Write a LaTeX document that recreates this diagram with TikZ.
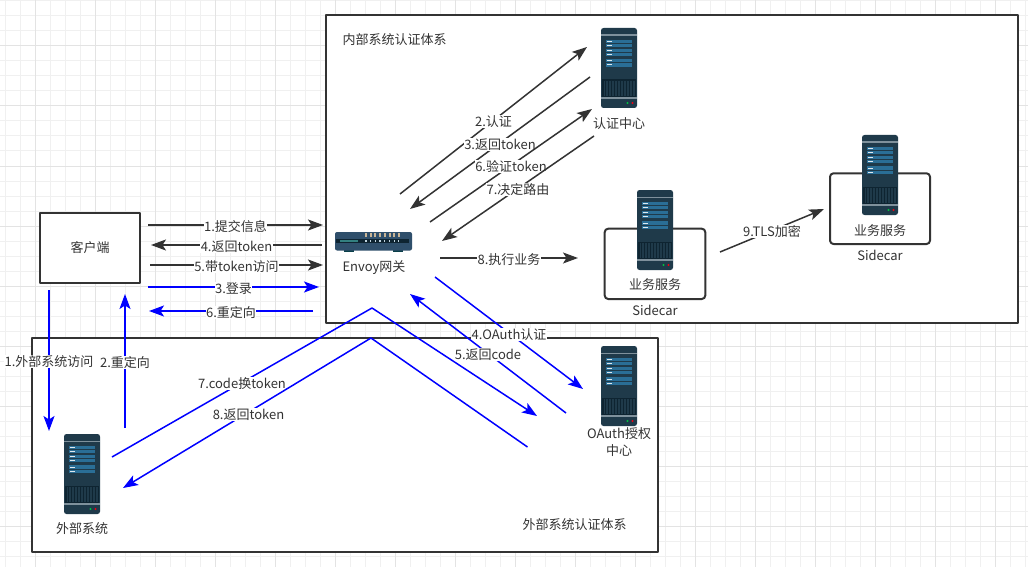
\documentclass[tikz,border=0pt]{standalone}
\usepackage{fontspec}
\setmainfont{Noto Sans CJK SC}
\usetikzlibrary{arrows.meta}
\definecolor{inkc}{HTML}{333333}
\definecolor{flowblue}{HTML}{0000FF}
\definecolor{rackc}{HTML}{1F3A4A}
\definecolor{slotc}{HTML}{2A6E96}
\definecolor{ventc}{HTML}{0E2431}
\definecolor{bandc}{HTML}{7F919C}
\definecolor{hubc}{HTML}{2F4F6B}
\definecolor{ledc}{HTML}{C9B596}
\tikzset{
	flow/.style={line width=1.5pt,-{Stealth[length=15pt,width=11pt,inset=3.5pt]}},
	darkflow/.style={flow,draw=inkc,color=inkc},
	blueflow/.style={flow,draw=flowblue,color=flowblue},
	flowlab/.style={fill=white,text=inkc,inner sep=.5pt,yshift=-1.2pt,font=\fontsize{13}{15}\selectfont},
	txt/.style={text=inkc,inner sep=0pt,align=center,font=\fontsize{13}{17}\selectfont},
	sysbox/.style={draw=inkc,fill=white,line width=2pt},
	serverpic/.pic={
		\fill[rackc,rounded corners=2.5pt](0,0)rectangle(36,80);
		\fill[bandc](0,6.5)rectangle(36,8);
		\foreach \y in {11.7,20.7,31.3}{
			\fill[slotc](5,\y)rectangle(31,\y+3.2);
			\fill[slotc](5,\y+4.2)rectangle(31,\y+7.4);
			\fill[white!85!slotc](6,\y+1.2)rectangle(10.5,\y+2.2);
			\fill[white!85!slotc](6,\y+5.2)rectangle(10.5,\y+6.2);
		}
		\fill[ventc](1,51.5)rectangle(35,69);
		\foreach \x in {3,4.5,...,33}\fill[rackc](\x,53)rectangle(\x+.5,68);
		\fill[bandc](0,69)rectangle(36,71);
		\fill[green!50!teal](26.5,75)circle(1.2pt);
		\fill[red!70!purple](31.5,75)circle(1.2pt);
	},
	hubpic/.pic={
		\fill[ventc!70!teal](9,17)rectangle(19,20);
		\fill[ventc!70!teal](58,17)rectangle(68,20);
		\fill[hubc,rounded corners=2pt](0,0)rectangle(77,18.5);
		\fill[ventc](1,7)rectangle(74,11);
		\fill[teal!60!gray](5,8)rectangle(23,10);
		\foreach \x in {30,34.7,...,63.5}{
			\fill[ledc](\x,.8)rectangle(\x+2,4.5);
			\fill[white!70!slotc](\x+.3,8.4)rectangle(\x+1.5,9.6);
		}
	}
}
\begin{document}
\begin{tikzpicture}[x=1pt,y=-1pt,line join=round]
	\useasboundingbox(0,0)rectangle(1028,567);
	\fill[white](0,0)rectangle(1028,567);
	% paper grid
	\foreach \x in {5.5,20.5,...,1025.5}\draw[black!6,line width=1pt](\x,0)--(\x,567);
	\foreach \y in {1,16,...,566}\draw[black!6,line width=1pt](0,\y)--(1028,\y);
	\foreach \x in {35.5,95.5,...,1015.5}\draw[black!11,line width=1pt](\x,0)--(\x,567);
	\foreach \y in {46,106,...,526}\draw[black!11,line width=1pt](0,\y)--(1028,\y);
	% system frames
	\draw[sysbox](325.5,15.5)rectangle(1018,323);
	\draw[sysbox](32,338)rectangle(658,552);
	\draw[sysbox](40,213)rectangle(140,283);
	\draw[sysbox,rounded corners=3.5pt](604.7,228.7)rectangle(705.3,299);
	\draw[sysbox,rounded corners=3.5pt](830,173.3)rectangle(930,244);
	% servers and gateway
	\pic (authsrv) at (601,28) {serverpic};
	\pic (svcA) at (637,190) {serverpic};
	\pic (svcB) at (862,135) {serverpic};
	\pic (extsrv) at (64,434) {serverpic};
	\pic (oauthsrv) at (601,346) {serverpic};
	\pic (envoy) at (335,232) {hubpic};
	% texts
	\node[txt] (innertxt) at (394.5,40) {内部系统认证体系};
	\node[txt] (outertxt) at (574.5,525) {外部系统认证体系};
	\node[txt] (client) at (90,248) {客户端};
	\node[txt] (authtxt) at (619,124) {认证中心};
	\node[txt] (envoytxt) at (374,268) {Envoy网关};
	\node[txt] (svcAtxt) at (655,285) {业务服务};
	\node[txt] (carA) at (655,310) {Sidecar};
	\node[txt] (svcBtxt) at (880,230.7) {业务服务};
	\node[txt] (carB) at (880,255) {Sidecar};
	\node[txt] (exttxt) at (82,529) {外部系统};
	\node[txt] (oauthtxt) at (619,442) {OAuth授权\\中心};
	% internal calls
	\foreach \n/\xa/\ya/\xb/\yb/\lab in {
		submit/148/225/323/225/1.提交信息,
		tokback/322/245/151/245/4.返回token,
		tokvisit/150/265/323/265/5.带token访问,
		auth/400/194/587/47/2.认证,
		authback/590/77/410/209/3.返回token,
		verify/430/222/592/109/6.验证token,
		route/594/136/442/241/7.决定路由,
		exec/440/258/578/258/8.执行业务,
		tls/720/252/824/209/9.TLS加密}{
		\coordinate (\n S) at (\xa,\ya);
		\coordinate (\n E) at (\xb,\yb);
		\draw[darkflow](\n S)--(\n E)node[flowlab,midway](\n L){\lab};
	}
	% external login calls
	\foreach \n/\xa/\ya/\xb/\yb/\lab in {
		login/148/287/319/287/3.登录,
		redir/313/311/149/311/6.重定向,
		extvisit/49/290/49/431/1.外部系统访问,
		extredir/125/428/125/294/2.重定向,
		oauth/435/277/583/389/4.OAuth认证,
		codeback/566/413/410/294/5.返回code}{
		\coordinate (\n S) at (\xa,\ya);
		\coordinate (\n E) at (\xb,\yb);
		\draw[blueflow](\n S)--(\n E)node[flowlab,midway](\n L){\lab};
	}
	\coordinate (swapS) at (112,457);
	\coordinate (swapM) at (372,308);
	\coordinate (swapE) at (537,416);
	\draw[blueflow](swapS)--node[flowlab](swapL){7.code换token}(swapM)--(swapE);
	\coordinate (retS) at (527.5,447);
	\coordinate (retM) at (371,338);
	\coordinate (retE) at (123,488);
	\draw[blueflow](retS)--(retM)--node[flowlab,xshift=1.5pt](retL){8.返回token}(retE);
\end{tikzpicture}
\end{document}
